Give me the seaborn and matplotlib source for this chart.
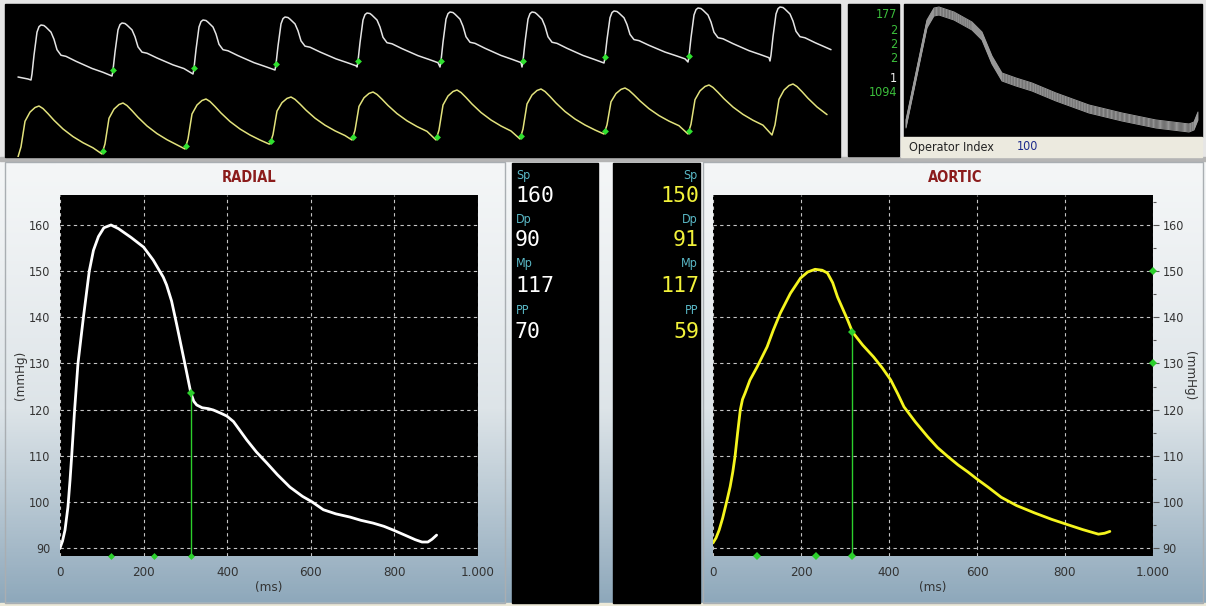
import numpy as np
import pandas as pd
import matplotlib
matplotlib.use("Agg")
import matplotlib.pyplot as plt
from matplotlib.colors import LinearSegmentedColormap
from matplotlib.patches import Rectangle
from matplotlib import font_manager
import seaborn as sns

# ---- data ----
# radial average pulse (ms, mmHg)
radial_ms = [0, 6, 12, 19, 24, 28, 35, 43, 56, 70, 80, 92, 105, 122, 140, 170, 200, 223,
             247, 255, 267, 279, 291, 302, 313, 320, 327, 340, 355, 367, 385, 399, 415,
             447, 470, 495, 520, 550, 580, 603, 630, 660, 694, 720, 749, 775, 797, 830,
             850, 866, 880, 890, 901]
radial_mmhg = [90.0, 91.5, 93.9, 98.9, 104.7, 110, 120, 130, 140, 150, 154.5, 157.5, 159.4,
               160.0, 159.2, 157.3, 155.2, 152.4, 148.7, 147.0, 143.5, 138.5, 133.3, 128.5,
               123.6, 121.8, 121.0, 120.4, 120.2, 119.9, 119.2, 118.6, 117.4, 113.4, 110.8,
               108.4, 105.9, 103.2, 101.2, 100.0, 98.3, 97.4, 96.7, 96.0, 95.4, 94.7, 93.9,
               92.6, 91.8, 91.3, 91.3, 91.9, 92.8]

# derived aortic pulse (ms, mmHg)
aortic_ms = [0, 7, 14, 22, 32, 39, 45, 50, 56, 62, 67, 73, 84, 100, 123, 137, 153, 176, 199,
             215, 232, 248, 260, 272, 283, 295, 306, 317, 340, 365, 385, 404, 420, 434, 460,
             488, 510, 534, 557, 579, 602, 625, 655, 690, 731, 770, 808, 840, 876, 890, 902]
aortic_mmhg = [91.1, 92.2, 93.9, 96.5, 100.4, 103.3, 106.5, 109.8, 115, 119.9, 122.2, 123.6,
               126.4, 129.2, 133.6, 137.2, 140.9, 145.2, 148.5, 149.8, 150.4, 150.2, 149.6,
               147.5, 144.4, 141.8, 139.4, 136.8, 134.0, 131.4, 129.0, 126.4, 123.4, 120.6,
               117.3, 114.1, 111.8, 109.8, 108.0, 106.5, 104.8, 103.2, 101.0, 99.2, 97.6,
               96.2, 95.0, 94.0, 93.0, 93.2, 93.6]

# marker points
radial_notch_ms, radial_notch_mmhg = 313, 123.6
radial_foot_ms = [122, 224, 313]
aortic_notch_ms, aortic_notch_mmhg = 317, 136.8
aortic_foot_ms = [100, 235, 317]
aortic_side_mmhg = [150, 130]

# summary values
labels = ["Sp", "Dp", "Mp", "PP"]
radial_vals = ["160", "90", "117", "70"]
aortic_vals = ["150", "91", "117", "59"]

ticks_ms = [0, 200, 400, 600, 800, 1000]
ticks_ms_lbl = ["0", "200", "400", "600", "800", "1.000"]
ticks_mmhg = [90, 100, 110, 120, 130, 140, 150, 160]

# beat strip (screen units): one beat shape + foot/peak of every beat
white_dx = [0, 1, 3, 6, 8, 10, 13, 15, 20, 23, 26, 30, 35, 45, 61, 72, 81]
white_fr = [0, 0.11, 0.45, 0.87, 0.97, 1.0, 0.99, 0.96, 0.87, 0.74, 0.55, 0.45, 0.43, 0.34,
            0.21, 0.14, 0.08]
white_foot_x = [31, 112, 193, 275, 357, 440, 522, 604, 688, 770]
white_foot_y = [80, 76, 74, 70, 67, 67, 67, 63, 62, 61]
white_peak_y = [25, 23, 20, 17, 13, 12, 12, 11, 8, 7]

yellow_dx = [0, 3, 7, 12, 17, 21, 25, 30, 36, 45, 55, 65, 75, 84]
yellow_fr = [0, 0.2, 0.7, 0.88, 0.97, 1.0, 0.95, 0.85, 0.72, 0.55, 0.4, 0.28, 0.18, 0.1]
yellow_foot_x = [18, 102, 185, 270, 352, 436, 520, 604, 688, 772]
yellow_foot_y = [157, 154, 149, 144, 140, 140, 139, 134, 134, 135]
yellow_peak_y = [106, 103, 99, 97, 92, 90, 89, 88, 85, 84]

# overlay of beats (screen units)
ov_x = [2, 23, 30, 35, 50, 68, 78, 88, 98, 112, 128, 152, 185, 218, 252, 285, 290, 294]
ov_y = [118, 18, 6, 5, 10, 20, 30, 54, 71, 76, 81, 91, 103, 111, 118, 122, 120, 110]
ov_shift = [-2, -1, 0, 1, 2, 3, 4, 5, 6]

counters = ["177", "2", "2", "2", "1", "1094"]
counter_y = [14, 31, 45, 59, 79, 92]
counter_col = ["#3cbf3c", "#3cbf3c", "#3cbf3c", "#3cbf3c", "#f0f0f0", "#3cbf3c"]

# ---- fonts ----
fonts = font_manager.fontManager.ttflist
names = {f.name for f in fonts}
if "Liberation Sans Narrow" in names:
    narrow, stretch = "Liberation Sans Narrow", "normal"
elif any(f.name == "DejaVu Sans" and f.stretch == "condensed" for f in fonts):
    narrow, stretch = "DejaVu Sans", "condensed"
else:
    narrow, stretch = "Liberation Sans", "normal"
sns.set_style("white")
plt.rcParams["font.family"] = [narrow, "DejaVu Sans"]
plt.rcParams["font.stretch"] = stretch

W, H = 1206, 606
fig = plt.figure(figsize=(W / 100, H / 100), dpi=100, facecolor="#e6e6e6")


def px_axes(x0, y0, x1, y1):
    return fig.add_axes([x0 / W, 1 - y1 / H, (x1 - x0) / W, (y1 - y0) / H])


def build_strip(dx, fr, foot_x, foot_y, peak_y, end_x):
    xs, ys = [], []
    for i in range(len(foot_x)):
        stop = foot_x[i + 1] if i + 1 < len(foot_x) else end_x + 1
        for d, f in zip(dx, fr):
            if foot_x[i] + d < stop:
                xs.append(foot_x[i] + d)
                ys.append(foot_y[i] - f * (foot_y[i] - peak_y[i]))
    return np.array(xs, float), np.array(ys, float)


# ---- background: gradient panels and black boxes ----
bg = fig.add_axes([0, 0, 1, 1])
grad_cmap = LinearSegmentedColormap.from_list("win", ["#f4f6f7", "#dde4e8", "#8ea8bb"])
grad = np.linspace(0, 1, 256).reshape(-1, 1) ** 1.2
bg.imshow(grad, extent=(0, W, 603, 161), aspect="auto", cmap=grad_cmap, origin="upper")
bg.set_xlim(0, W)
bg.set_ylim(H, 0)
bg.axis("off")
bg.add_patch(Rectangle((0, 603), W, 3, color="#ece9d8"))
bg.add_patch(Rectangle((0, 157), W, 4, color="#b4b4b4"))
for x0, x1 in [(5, 505), (703, 1203)]:
    bg.add_patch(Rectangle((x0, 162), x1 - x0, 441, fill=False, ec="#a9aeb2", lw=1))
bg.add_patch(Rectangle((512, 163), 86, 440, color="black"))
bg.add_patch(Rectangle((613, 163), 87, 440, color="black"))
bg.add_patch(Rectangle((5, 4), 835, 153, color="black"))
bg.add_patch(Rectangle((848, 4), 51, 152, color="black"))
bg.add_patch(Rectangle((904, 4), 298, 133, color="black"))
bg.add_patch(Rectangle((901, 137), 301, 20, color="#eceadf"))

bg.text(994, 147, "Operator Index", color="#222222", fontsize=9, va="center", ha="right")
bg.text(1017, 147, "100", color="#1c2a8c", fontsize=9, va="center")
for txt, col, y in zip(counters, counter_col, counter_y):
    bg.text(897, y, txt, color=col, fontsize=9, ha="right", va="center")

label_y = [175, 219, 264, 311]
value_y = [196, 240, 286, 332]
for lab, rv, av, ly, vy in zip(labels, radial_vals, aortic_vals, label_y, value_y):
    bg.text(516, ly, lab, color="#5ab8c6", fontsize=9, va="center")
    bg.text(698, ly, lab, color="#5ab8c6", fontsize=9, va="center", ha="right")
    bg.text(515, vy, rv, color="white", fontsize=15.5, va="center",
            family="DejaVu Sans Mono", fontstretch="normal")
    bg.text(699, vy, av, color="#f2f23a", fontsize=15.5, va="center", ha="right",
            family="DejaVu Sans Mono", fontstretch="normal")

bg.text(249, 178, "RADIAL", color="#8b1c1c", fontsize=10.5, fontweight="bold",
        ha="center", va="center")
bg.text(955, 178, "AORTIC", color="#8b1c1c", fontsize=10.5, fontweight="bold",
        ha="center", va="center")

# ---- beat strip ----
strip = px_axes(5, 4, 840, 157)
strip.set_xlim(5, 840)
strip.set_ylim(157, 4)
strip.axis("off")
wx, wy = build_strip(white_dx, white_fr, white_foot_x, white_foot_y, white_peak_y, 832)
wx = np.r_[18, 28, wx]
wy = np.r_[77, 79, wy]
yx, yy = build_strip(yellow_dx, yellow_fr, yellow_foot_x, yellow_foot_y, yellow_peak_y, 832)
sns.lineplot(x=wx, y=wy, ax=strip, color="#e4e4e4", linewidth=1.1, sort=False, estimator=None)
sns.lineplot(x=yx, y=yy, ax=strip, color="#e2e27c", linewidth=1.1, sort=False, estimator=None)
wm = np.array(white_foot_x[1:9]) + 1
ym = np.array(yellow_foot_x[1:9]) + 1
strip.plot(wm, np.interp(wm, wx, wy), "D", color="#2fe02f", ms=3.5, mew=0)
strip.plot(ym, np.interp(ym, yx, yy), "D", color="#2fe02f", ms=3.5, mew=0)

# ---- beat overlay ----
ov = px_axes(904, 4, 1202, 137)
ov.set_xlim(0, 298)
ov.set_ylim(133, 0)
ov.axis("off")
for s in ov_shift:
    sns.lineplot(x=ov_x, y=np.array(ov_y) + s, ax=ov, color="#9c9c9c", linewidth=0.7,
                 sort=False, estimator=None)


# ---- pressure plots ----
def pressure_axes(ax, ms, mmhg, color, right=False):
    ax.set_facecolor("black")
    sns.lineplot(x=ms, y=mmhg, ax=ax, color=color, linewidth=2.0, sort=False, estimator=None)
    ax.set_xlim(0, 1000)
    ax.set_ylim(88.27, 166.5)
    ax.set_xticks(ticks_ms)
    ax.set_xticklabels(ticks_ms_lbl)
    ax.set_yticks(ticks_mmhg)
    ax.set_yticks([95, 105, 115, 125, 135, 145, 155, 165], minor=True)
    ax.grid(True, which="major", color="#c4c4c4", linestyle=(0, (3, 3)), linewidth=0.8)
    for sp in ax.spines.values():
        sp.set_visible(False)
    ax.tick_params(axis="both", which="major", direction="out", length=4, width=0.8,
                   color="#555555", labelcolor="#333333", labelsize=9, pad=3)
    ax.tick_params(axis="x", which="major", labelsize=9.5)
    ax.tick_params(axis="y", which="minor", direction="out", length=2.5, width=0.8,
                   color="#555555")
    ax.set_xlabel("(ms)", fontsize=9.5, color="#333333", labelpad=2)
    if right:
        ax.yaxis.tick_right()
        ax.set_ylabel("(mmHg)", fontsize=9.5, color="#333333", rotation=270, va="center")
        ax.yaxis.set_label_coords(1.084, 0.5)
    else:
        ax.set_ylabel("(mmHg)", fontsize=9.5, color="#333333", va="center")
        ax.yaxis.set_label_coords(-0.095, 0.5)


rad = px_axes(60, 195, 478, 556)
pressure_axes(rad, radial_ms, radial_mmhg, "white")
rad.plot([radial_notch_ms, radial_notch_ms], [88.27, radial_notch_mmhg], color="#2ccf2c", lw=1)
rad.plot([radial_notch_ms], [radial_notch_mmhg], "D", color="#2ccf2c", ms=4, mew=0)
rad.plot(radial_foot_ms, [88.27] * 3, "D", color="#2ccf2c", ms=3.5, mew=0, clip_on=False)

aor = px_axes(713, 195, 1153, 556)
pressure_axes(aor, aortic_ms, aortic_mmhg, "#f5f51e", right=True)
aor.plot([aortic_notch_ms, aortic_notch_ms], [88.27, aortic_notch_mmhg], color="#2ccf2c", lw=1)
aor.plot([aortic_notch_ms], [aortic_notch_mmhg], "D", color="#2ccf2c", ms=4, mew=0)
aor.plot(aortic_foot_ms, [88.27] * 3, "D", color="#2ccf2c", ms=4.5, mew=0, clip_on=False)
aor.plot([1000, 1000], aortic_side_mmhg, "D", color="#2ccf2c", ms=4.5, mew=0, clip_on=False)

fig.savefig("out.png", dpi=100, facecolor=fig.get_facecolor())
